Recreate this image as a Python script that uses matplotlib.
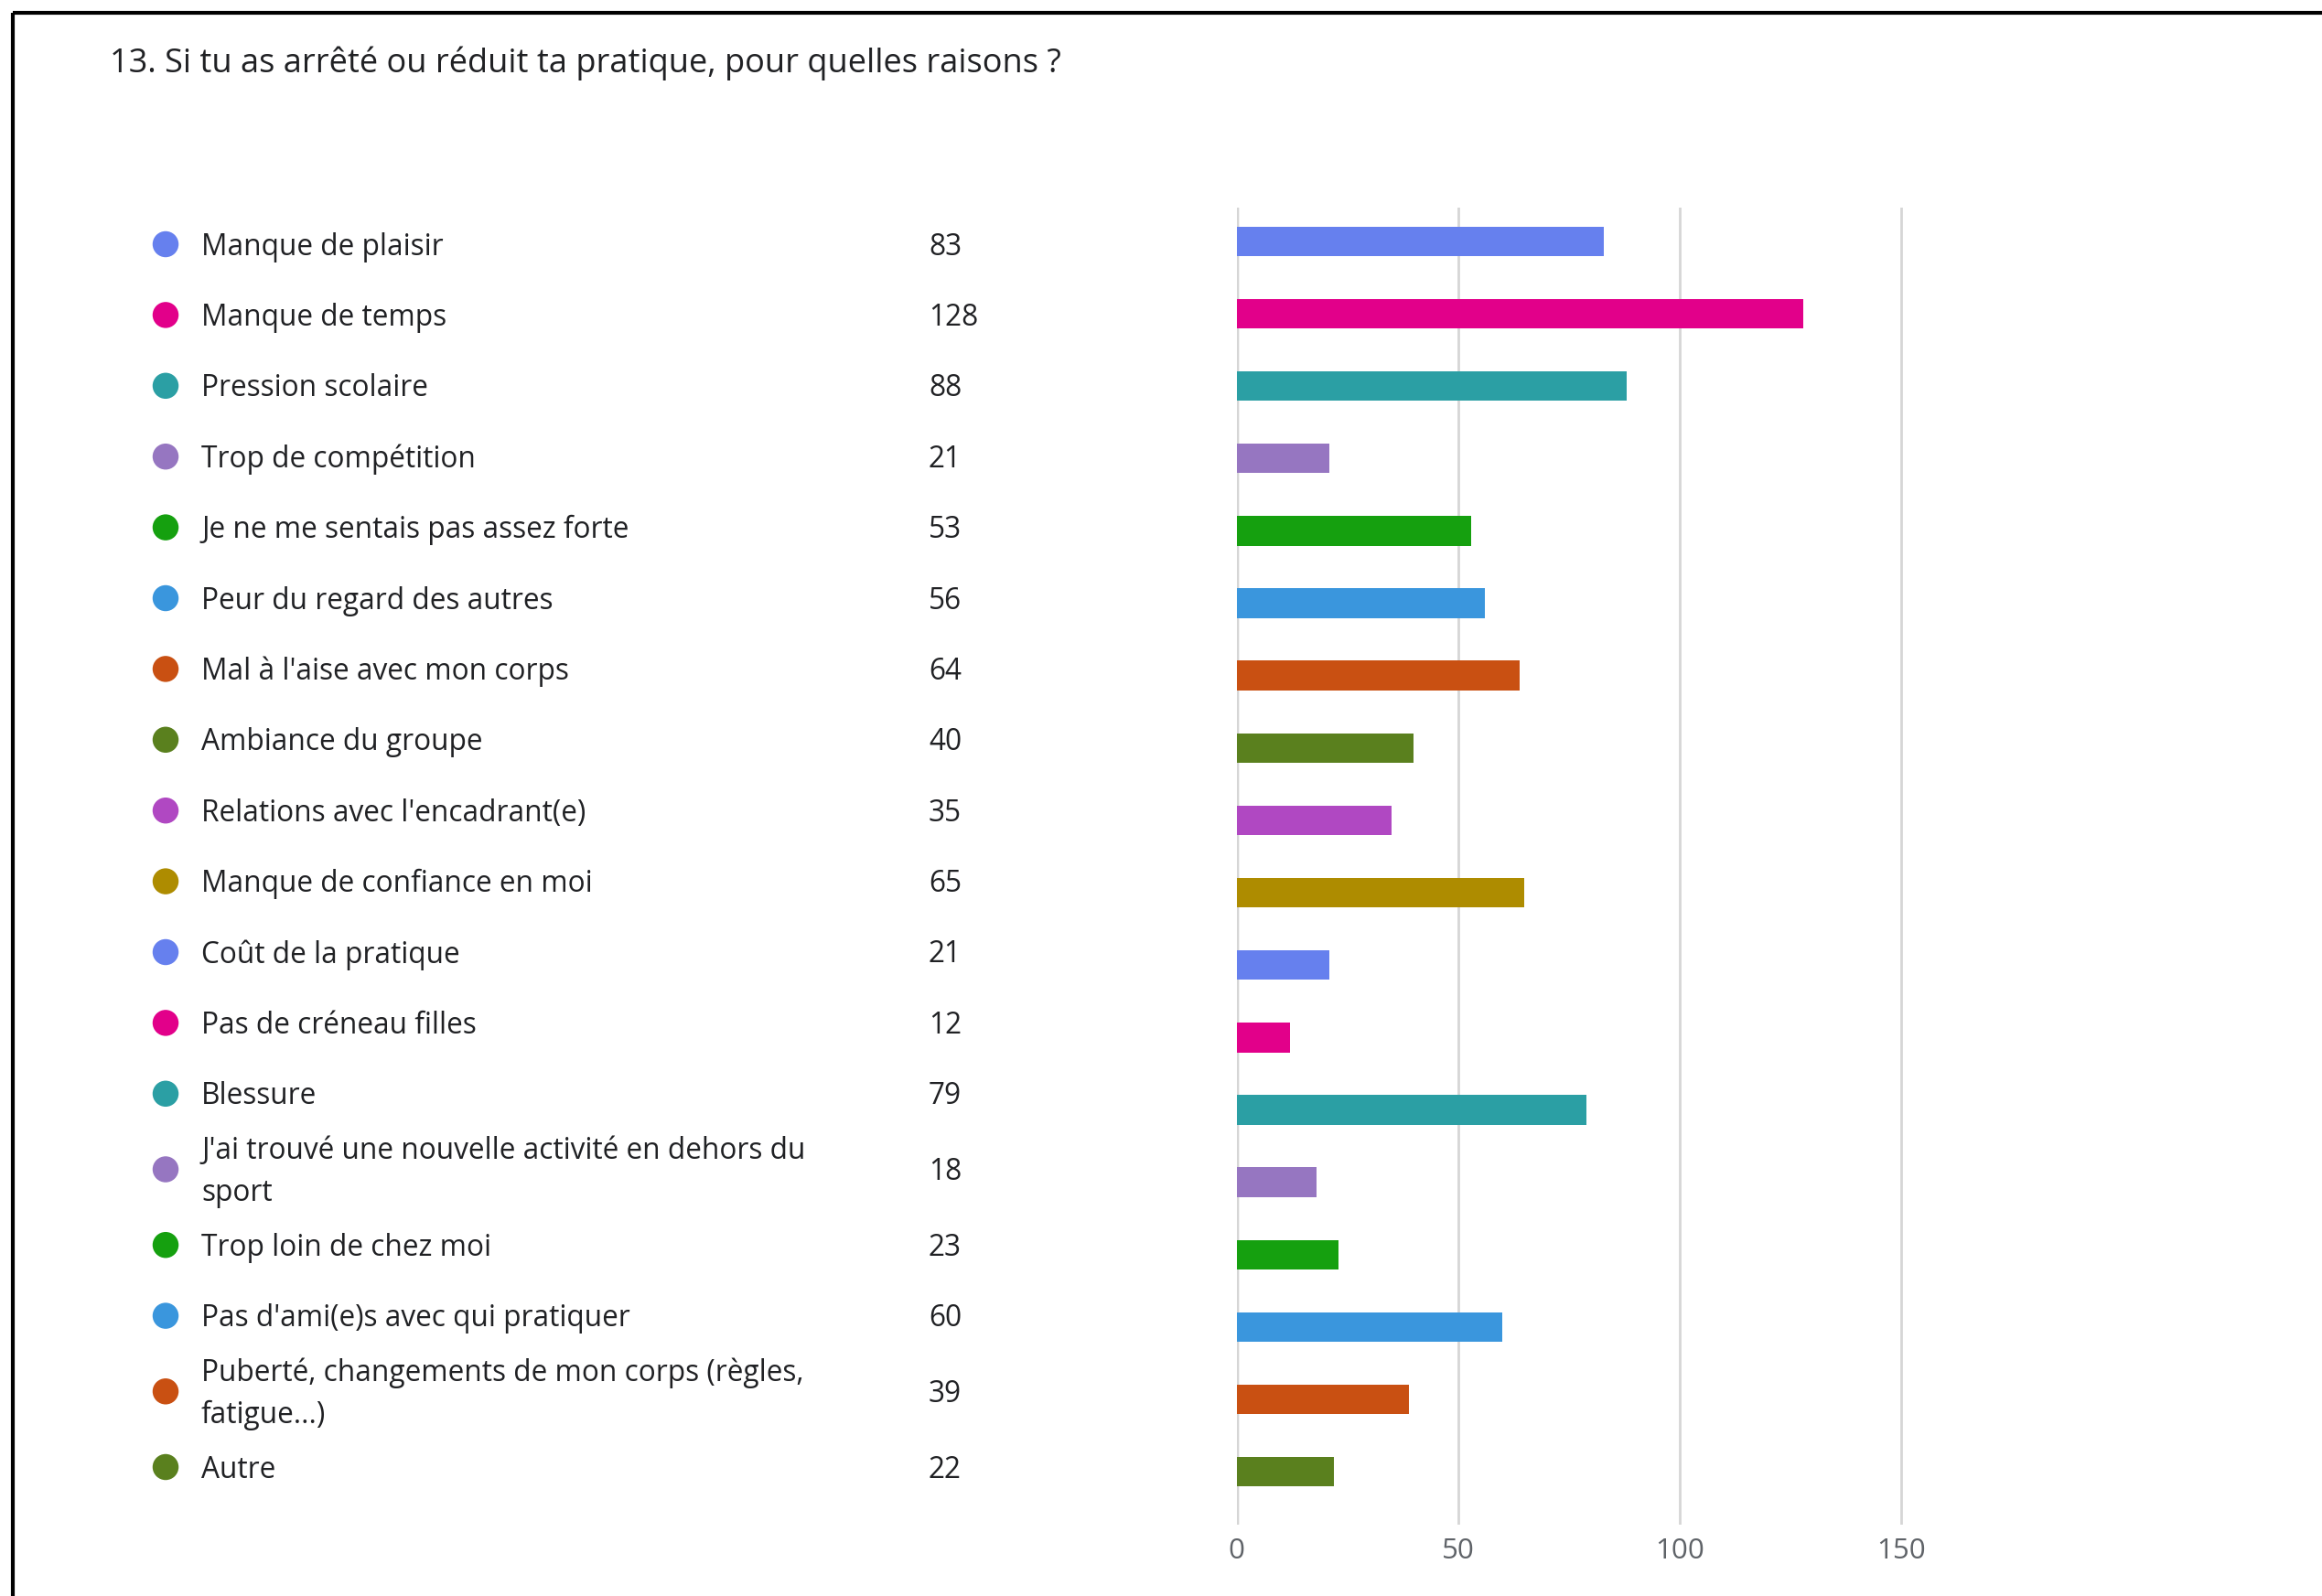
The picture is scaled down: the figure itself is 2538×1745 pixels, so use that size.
import numpy as np
import matplotlib.pyplot as plt

title = "13. Si tu as arrêté ou réduit ta pratique, pour quelles raisons ?"
labels = [
    "Manque de plaisir",
    "Manque de temps",
    "Pression scolaire",
    "Trop de compétition",
    "Je ne me sentais pas assez forte",
    "Peur du regard des autres",
    "Mal à l'aise avec mon corps",
    "Ambiance du groupe",
    "Relations avec l'encadrant(e)",
    "Manque de confiance en moi",
    "Coût de la pratique",
    "Pas de créneau filles",
    "Blessure",
    "J'ai trouvé une nouvelle activité en dehors du\nsport",
    "Trop loin de chez moi",
    "Pas d'ami(e)s avec qui pratiquer",
    "Puberté, changements de mon corps (règles,\nfatigue...)",
    "Autre",
]
values = [83, 128, 88, 21, 53, 56, 64, 40, 35, 65, 21, 12, 79, 18, 23, 60, 39, 22]
palette = ['#6680ee', '#e2008a', '#2b9fa4', '#9676c1', '#15a00f',
           '#3a96dd', '#c95012', '#5a801e', '#b048c2', '#ae8c00']
ticks = [0, 50, 100, 150]

colors = [palette[i % len(palette)] for i in range(len(values))]

W, H = 2538, 1745
plt.rcParams['font.family'] = ['Open Sans', 'DejaVu Sans']

fig = plt.figure(figsize=(W / 100, H / 100), dpi=100)

# overlay in pixel coords for frame, title and legend
lay = fig.add_axes([0, 0, 1, 1])
lay.set_xlim(0, W)
lay.set_ylim(H, 0)
lay.axis('off')

lay.plot([14, W], [14, 14], color='black', lw=3, solid_capstyle='butt')
lay.plot([14, 14], [14, H], color='black', lw=3, solid_capstyle='butt')

lay.text(120, 69, title, fontsize=26, color='#202124', va='center', ha='left')

# legend rows (two-line rows are a bit taller)
y = 267
prev_h = None
for lab, val, c in zip(labels, values, colors):
    nl = lab.count('\n') + 1
    h = 77.4 if nl == 1 else 88
    if prev_h is not None:
        y += (prev_h + h) / 2
    prev_h = h
    lay.scatter([181], [y], s=420, color=c, edgecolors='none')
    lay.text(220, y + 3, lab, fontsize=22.8, color='#202124', va='center',
             ha='left', linespacing=1.5)
    lay.text(1015, y + 3, str(val), fontsize=22.8, color='#202124', va='center',
             ha='left')

# bar chart
x0, x150 = 1351.5, 2078.0
xmax = 151
px_per = (x150 - x0) / 150
top, bot = 226.6, 1667.0
ax = fig.add_axes([x0 / W, 1 - bot / H, xmax * px_per / W, (bot - top) / H])
ax.set_zorder(lay.get_zorder() - 1)

n = len(values)
ax.barh(np.arange(n), values, height=0.41, color=colors, zorder=3)
ax.set_ylim(17.73, -0.47)
ax.set_xlim(0, xmax)
ax.set_xticks(ticks)
ax.set_yticks([])
ax.grid(axis='x', color='#d6d6d6', lw=2, zorder=0)
for s in ax.spines.values():
    s.set_visible(False)
ax.axvline(0, color='#c4c4c4', lw=2.5, zorder=1)
ax.tick_params(axis='x', length=0, pad=10, labelsize=22.5, labelcolor='#5f6368')

fig.savefig('out.png', dpi=100, facecolor='white')
